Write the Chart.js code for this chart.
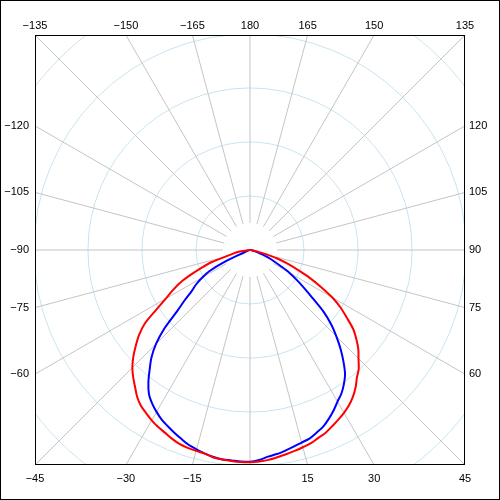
<!DOCTYPE html>
<html>
<head>
<meta charset="utf-8">
<script src="https://cdn.jsdelivr.net/npm/chart.js@4"></script>
<style>
  body { margin: 0; background: #fff; }
  canvas { display: block; }
</style>
</head>
<body>
<canvas id="myChart" width="500" height="500"></canvas>
<script>
// angles in degrees, 0 = straight down, positive to the right
const angles = [-90, -87.5, -85, -82.5, -80, -77.5, -75, -72.5, -70, -67.5, -65, -62.5, -60,
    -57.5, -55, -52.5, -50, -47.5, -45, -42.5, -40, -37.5, -35, -32.5, -30, -27.5, -25, -22.5,
    -20, -17.5, -15, -12.5, -10, -7.5, -5, -2.5, 0, 2.5, 5, 7.5, 10, 12.5, 15, 17.5, 20, 22.5,
    25, 27.5, 30, 32.5, 35, 37.5, 40, 42.5, 45, 47.5, 50, 52.5, 55, 57.5, 60, 62.5, 65, 67.5,
    70, 72.5, 75, 77.5, 80, 82.5, 85, 87.5, 90];

// luminous intensity, cd
const redValues = [0, 1, 4, 17, 26, 33, 46, 74, 94, 117, 142, 161, 180,
    206, 238, 259, 276, 293, 308, 320, 331, 343, 352, 358, 364, 369, 373, 378,
    382, 384, 385, 386, 390, 391, 392, 393, 393, 392, 390, 387, 384, 381, 378, 375, 370, 366,
    360, 354, 348, 341, 332, 321, 308, 298, 284, 272, 257, 241, 219, 199, 176, 148, 122, 95,
    73, 54, 33, 15, 7, 4, 2, 1, 0];

const blueValues = [0, 0, 0, 0, 1, 2, 3, 4, 6, 11, 52, 85, 102,
    118, 131, 152, 176, 215, 246, 270, 289, 309, 326, 337, 346, 354, 360, 366,
    372, 378, 382, 386, 389, 391, 391, 392, 392, 389, 384, 381, 377, 373, 369, 366, 360, 354,
    345, 335, 324, 315, 303, 289, 269, 248, 226, 204, 178, 146, 122, 102, 84, 63, 48, 35,
    24, 17, 11, 7, 5, 3, 2, 1, 0];

const spokeAngles = [-165, -150, -135, -120, -105, -90, -75, -60, -45, -30, -15, 0,
    15, 30, 45, 60, 75, 90, 105, 120, 135, 150, 165, 180];
const labelAngles = [-165, -150, -135, -120, -105, -90, -75, -60, -45, -30, -15,
    15, 30, 45, 60, 75, 90, 105, 120, 135, 150, 165, 180];
const circleValues = [100, 200, 300, 400, 500];

const R = 398;
const innerRadius = 50;

function toXY(deg, r) {
    const a = deg * Math.PI / 180;
    return { x: r * Math.sin(a), y: -r * Math.cos(a) };
}

const polarGrid = {
    id: 'polarGrid',
    beforeDatasetsDraw(chart) {
        const { ctx, chartArea: a, scales: { x, y } } = chart;
        const cx = x.getPixelForValue(0), cy = y.getPixelForValue(0);
        ctx.save();
        ctx.beginPath();
        ctx.rect(a.left, a.top, a.right - a.left, a.bottom - a.top);
        ctx.clip();
        ctx.lineWidth = 1;
        ctx.strokeStyle = '#c8e4ee';
        circleValues.forEach(v => {
            ctx.beginPath();
            ctx.arc(cx, cy, x.getPixelForValue(v) - cx, 0, Math.PI * 2);
            ctx.stroke();
        });
        ctx.strokeStyle = '#c4c4c4';
        spokeAngles.forEach(deg => {
            const p0 = toXY(deg, innerRadius), p1 = toXY(deg, 1000);
            ctx.beginPath();
            ctx.moveTo(x.getPixelForValue(p0.x), y.getPixelForValue(p0.y));
            ctx.lineTo(x.getPixelForValue(p1.x), y.getPixelForValue(p1.y));
            ctx.stroke();
        });
        ctx.restore();
    },
    afterDraw(chart) {
        const { ctx, chartArea: a, scales: { x, y } } = chart;
        ctx.save();
        ctx.strokeStyle = '#000';
        ctx.lineWidth = 1;
        ctx.strokeRect(0.5, 0.5, chart.width - 1, chart.height - 1);
        ctx.strokeRect(a.left + 0.5, a.top + 0.5, a.right - a.left - 1, a.bottom - a.top - 1);

        ctx.fillStyle = '#000';
        ctx.font = '11px "Liberation Sans", Arial, sans-serif';
        labelAngles.forEach(deg => {
            const rad = deg * Math.PI / 180;
            const s = Math.sin(rad), c = Math.cos(rad);
            const text = (deg < 0 ? '\u2212' : '') + Math.abs(deg);
            if (Math.abs(c) >= Math.abs(s) - 1e-6) {
                const px = x.getPixelForValue(R / Math.abs(c) * s);
                ctx.textAlign = 'center';
                ctx.textBaseline = 'alphabetic';
                ctx.fillText(text, px, c < 0 ? a.top - 6 : a.bottom + 17);
            } else {
                const py = y.getPixelForValue(-R / Math.abs(s) * c);
                ctx.textBaseline = 'middle';
                if (s < 0) {
                    ctx.textAlign = 'right';
                    ctx.fillText(text, a.left - 6, py);
                } else {
                    ctx.textAlign = 'left';
                    ctx.fillText(text, a.right + 4, py);
                }
            }
        });
        ctx.restore();
    }
};

const ctx = document.getElementById('myChart').getContext('2d');
new Chart(ctx, {
    type: 'scatter',
    data: {
        datasets: [{
            label: 'C0-C180',
            data: angles.map((deg, i) => toXY(deg, redValues[i])),
            showLine: true,
            borderColor: '#ff0000',
            borderWidth: 2,
            pointRadius: 0,
            tension: 0.3
        }, {
            label: 'C90-C270',
            data: angles.map((deg, i) => toXY(deg, blueValues[i])),
            showLine: true,
            borderColor: '#0000ff',
            borderWidth: 2,
            pointRadius: 0,
            tension: 0.3
        }]
    },
    options: {
        responsive: false,
        animation: false,
        layout: { padding: 35 },
        plugins: {
            legend: { display: false },
            tooltip: { enabled: false }
        },
        scales: {
            x: { display: false, min: -R, max: R },
            y: { display: false, min: -R, max: R }
        }
    },
    plugins: [polarGrid]
});
</script>
</body>
</html>
